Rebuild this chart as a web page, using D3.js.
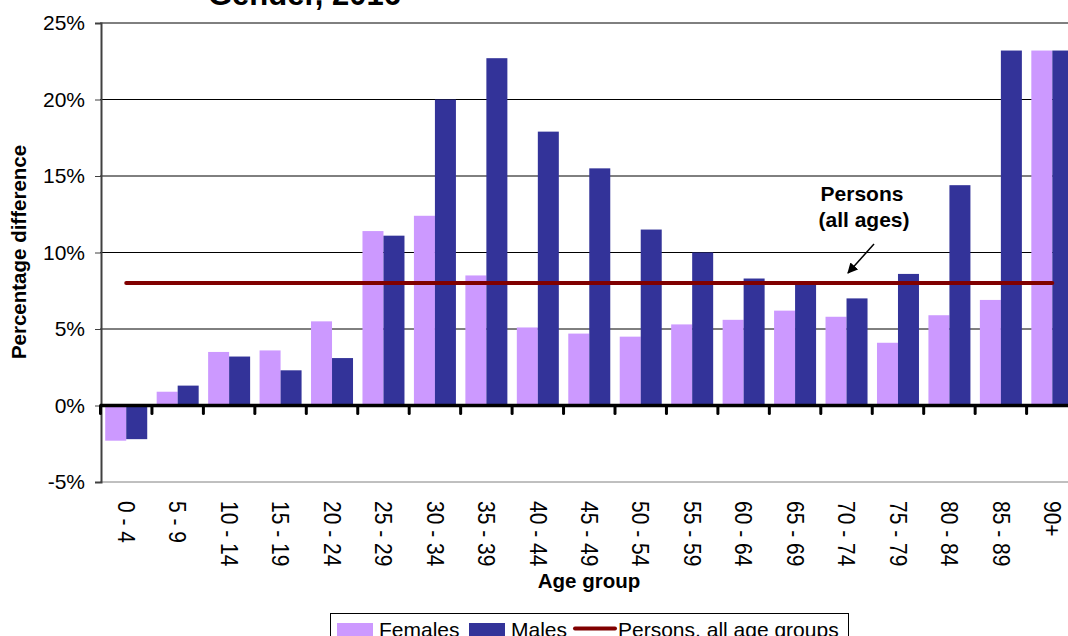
<!DOCTYPE html>
<html>
<head>
<meta charset="utf-8">
<script src="https://cdn.jsdelivr.net/npm/d3@7"></script>
<style>
  html, body { margin: 0; padding: 0; background: #fff; }
  svg { display: block; font-family: "Liberation Sans", Arial, sans-serif; }
</style>
</head>
<body>
<svg id="chart" width="1068" height="636"></svg>
<script>
// Age groups along the x axis
const ageGroups = ["0 - 4", "5 - 9", "10 - 14", "15 - 19", "20 - 24", "25 - 29", "30 - 34",
  "35 - 39", "40 - 44", "45 - 49", "50 - 54", "55 - 59", "60 - 64", "65 - 69",
  "70 - 74", "75 - 79", "80 - 84", "85 - 89", "90+"];

// Percentage difference by age group (%)
const females = [-2.3, 0.9, 3.5, 3.6, 5.5, 11.4, 12.4, 8.5, 5.1, 4.7, 4.5, 5.3, 5.6, 6.2,
  5.8, 4.1, 5.9, 6.9, 23.2];
const males = [-2.2, 1.3, 3.2, 2.3, 3.1, 11.1, 20.0, 22.7, 17.9, 15.5, 11.5, 10.0, 8.3, 7.9,
  7.0, 8.6, 14.4, 23.2, 23.2];

// Persons, all age groups (%)
const personsAllAges = 8.0;

// Value axis ticks (%)
const yTicks = [-5, 0, 5, 10, 15, 20, 25];

const seriesNames = ["Females", "Males"];
const seriesColors = { Females: "#CC99FF", Males: "#333399" };
const lineColor = "#800000";

const svg = d3.select("#chart");

const x0 = d3.scaleBand()
  .domain(ageGroups)
  .range([100.5, 100.5 + 51.45 * ageGroups.length])
  .paddingInner(0).paddingOuter(0);

const x1 = d3.scaleBand()
  .domain(seriesNames)
  .range([0, x0.bandwidth()])
  .paddingInner(0).paddingOuter(0.225);

const y = d3.scaleLinear().domain([-5, 25]).range([482, 23]);

const rows = ageGroups.map((g, i) => ({ group: g, Females: females[i], Males: males[i] }));

// Title (second line)
svg.append("text")
  .attr("x", 304.5).attr("y", 5)
  .attr("text-anchor", "middle")
  .attr("font-weight", "bold")
  .attr("font-size", 31)
  .text("Gender, 2016");

// Horizontal gridlines
svg.append("g")
  .selectAll("line")
  .data(yTicks.filter(t => t !== 0 && t !== -5))
  .join("line")
  .attr("x1", 100).attr("x2", 1068)
  .attr("y1", d => y(d)).attr("y2", d => y(d))
  .attr("stroke", "#000").attr("stroke-width", 1);

// Bottom border of plot area
svg.append("line")
  .attr("x1", 100).attr("x2", 1068)
  .attr("y1", y(-5)).attr("y2", y(-5))
  .attr("stroke", "#808080").attr("stroke-width", 1);

// Bars
svg.append("g")
  .selectAll("g")
  .data(rows)
  .join("g")
  .attr("transform", d => `translate(${x0(d.group)},0)`)
  .selectAll("rect")
  .data(d => seriesNames.map(s => ({ s, v: d[s] })))
  .join("rect")
  .attr("x", d => x1(d.s))
  .attr("width", x1.bandwidth())
  .attr("y", d => y(Math.max(0, d.v)))
  .attr("height", d => Math.abs(y(d.v) - y(0)))
  .attr("fill", d => seriesColors[d.s]);

// Persons line across the age groups
const firstC = x0(ageGroups[0]) + x0.bandwidth() / 2;
const lastC = x0(ageGroups[ageGroups.length - 1]) + x0.bandwidth() / 2;
svg.append("line")
  .attr("x1", firstC).attr("x2", lastC)
  .attr("y1", y(personsAllAges)).attr("y2", y(personsAllAges))
  .attr("stroke", lineColor).attr("stroke-width", 4)
  .attr("stroke-linecap", "round");

// Y axis
const yAxis = d3.axisLeft(y)
  .tickValues(yTicks)
  .tickFormat(d => d + "%")
  .tickSize(6)
  .tickPadding(10);
const gy = svg.append("g").attr("transform", "translate(101,0)").call(yAxis);
gy.select(".domain").attr("stroke", "#404040").attr("stroke-width", 2);
gy.selectAll(".tick line").attr("stroke", "#404040");
gy.selectAll(".tick text")
  .attr("font-size", 21)
  .attr("font-family", "Liberation Sans, Arial, sans-serif")
  .attr("fill", "#000");

// Category axis along zero line
const boundaries = ageGroups.map(g => x0(g));
svg.append("line")
  .attr("x1", 100).attr("x2", 1068)
  .attr("y1", y(0)).attr("y2", y(0))
  .attr("stroke", "#000").attr("stroke-width", 3.5);
svg.append("g")
  .selectAll("line")
  .data(boundaries)
  .join("line")
  .attr("x1", d => d).attr("x2", d => d)
  .attr("y1", y(0)).attr("y2", y(0) + 8)
  .attr("stroke", "#000").attr("stroke-width", 3)
  .attr("stroke-linecap", "round");

// Category labels, rotated (glyphs slightly widened across the axis)
svg.append("g")
  .selectAll("text")
  .data(ageGroups)
  .join("text")
  .attr("transform", d => `translate(${x0(d) + x0.bandwidth() / 2},501) rotate(90) scale(1,1.12)`)
  .attr("dy", "0.35em")
  .attr("font-size", 21)
  .text(d => d);

// Axis titles
svg.append("text")
  .attr("x", 589).attr("y", 588)
  .attr("text-anchor", "middle")
  .attr("font-weight", "bold").attr("font-size", 20.5)
  .text("Age group");

svg.append("text")
  .attr("transform", "translate(26,252) rotate(-90)")
  .attr("text-anchor", "middle")
  .attr("font-weight", "bold").attr("font-size", 20.5)
  .text("Percentage difference");

// Annotation for the persons line
svg.append("text")
  .attr("x", 862).attr("y", 201)
  .attr("text-anchor", "middle")
  .attr("font-weight", "bold").attr("font-size", 21)
  .text("Persons");
svg.append("text")
  .attr("x", 864).attr("y", 227)
  .attr("text-anchor", "middle")
  .attr("font-weight", "bold").attr("font-size", 21)
  .text("(all ages)");

svg.append("defs").append("marker")
  .attr("id", "arrowhead")
  .attr("viewBox", "0 0 10 10")
  .attr("refX", 9).attr("refY", 5)
  .attr("markerWidth", 7).attr("markerHeight", 7)
  .attr("orient", "auto")
  .append("path").attr("d", "M0,0 L10,5 L0,10 z").attr("fill", "#000");
svg.append("line")
  .attr("x1", 874).attr("y1", 244)
  .attr("x2", 848).attr("y2", 273)
  .attr("stroke", "#000").attr("stroke-width", 1.5)
  .attr("marker-end", "url(#arrowhead)");

// Legend
const legend = svg.append("g");
legend.append("rect")
  .attr("x", 330.5).attr("y", 613.5)
  .attr("width", 518).attr("height", 40)
  .attr("fill", "#fff").attr("stroke", "#000").attr("stroke-width", 1);

const legendItems = [
  { name: "Females", kind: "rect", color: seriesColors.Females, sx: 337, tx: 379 },
  { name: "Males", kind: "rect", color: seriesColors.Males, sx: 469, tx: 511 },
  { name: "Persons, all age groups", kind: "line", color: lineColor, sx: 575, tx: 618 }
];
legendItems.forEach(it => {
  if (it.kind === "rect") {
    legend.append("rect")
      .attr("x", it.sx).attr("y", 623)
      .attr("width", 36).attr("height", 14)
      .attr("fill", it.color);
  } else {
    legend.append("line")
      .attr("x1", it.sx).attr("x2", it.sx + 40)
      .attr("y1", 628.5).attr("y2", 628.5)
      .attr("stroke", it.color).attr("stroke-width", 4)
      .attr("stroke-linecap", "round");
  }
  legend.append("text")
    .attr("x", it.tx).attr("y", 637)
    .attr("font-size", 21)
    .text(it.name);
});
</script>
</body>
</html>
